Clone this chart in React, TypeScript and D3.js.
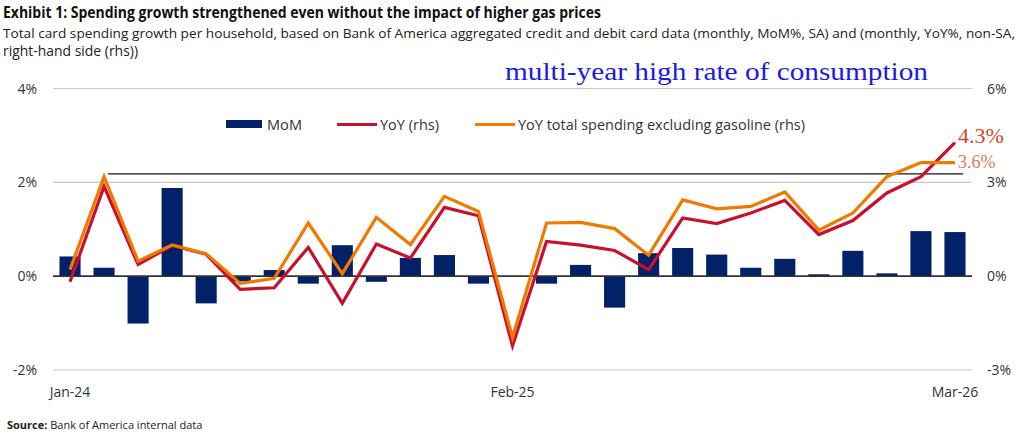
import React from 'react';
import { scaleBand, scaleLinear, line } from 'd3';

const months = [
  'Jan-24', 'Feb-24', 'Mar-24', 'Apr-24', 'May-24', 'Jun-24', 'Jul-24', 'Aug-24', 'Sep-24',
  'Oct-24', 'Nov-24', 'Dec-24', 'Jan-25', 'Feb-25', 'Mar-25', 'Apr-25', 'May-25', 'Jun-25',
  'Jul-25', 'Aug-25', 'Sep-25', 'Oct-25', 'Nov-25', 'Dec-25', 'Jan-26', 'Feb-26', 'Mar-26',
];

// MoM %, SA (left axis)
const mom = [
  0.42, 0.18, -1.01, 1.88, -0.58, -0.11, 0.13, -0.16, 0.66,
  -0.12, 0.39, 0.45, -0.16, 0.0, -0.16, 0.24, -0.67, 0.49,
  0.6, 0.46, 0.18, 0.37, 0.04, 0.54, 0.06, 0.96, 0.94,
];

// YoY %, non-SA (right axis)
const yoy = [
  -0.18, 2.87, 0.37, 0.98, 0.7, -0.42, -0.37, 0.92, -0.87,
  1.03, 0.58, 2.2, 1.93, -2.23, 1.11, 0.99, 0.82, 0.21,
  1.86, 1.68, 2.02, 2.42, 1.33, 1.78, 2.66, 3.18, 4.27,
];

// YoY total spending excluding gasoline (right axis)
const yoyExGas = [
  0.21, 3.18, 0.48, 1.0, 0.72, -0.23, -0.07, 1.7, 0.08,
  1.88, 1.01, 2.55, 2.07, -1.96, 1.7, 1.72, 1.52, 0.67,
  2.44, 2.15, 2.23, 2.69, 1.47, 2.02, 3.18, 3.63, 3.63,
];

const leftTicks = [-2, 0, 2, 4];
const rightTicks = [-3, 0, 3, 6];
const xLabels = ['Jan-24', 'Feb-25', 'Mar-26'];
const highLine = 3.27; // rhs level of the Feb-24 peak

const NAVY = '#012169';
const RED = '#c8102e';
const ORANGE = '#f07a00';
const FONT = "'Open Sans', sans-serif";

const plot = { left: 53, right: 972, top: 88.5, bottom: 370 };

const App: React.FC = () => {
  const x = scaleBand().domain(months).range([plot.left, plot.right]).paddingInner(0.38).paddingOuter(0.19);
  const cx = (m: string) => x(m)! + x.bandwidth() / 2;
  const yL = scaleLinear().domain([-2, 4]).range([plot.bottom, plot.top]);
  const yR = scaleLinear().domain([-3, 6]).range([plot.bottom, plot.top]);

  const pathOf = (vals: number[]) =>
    line<number>()
      .x((_, i) => cx(months[i]))
      .y(v => yR(v))(vals)!;

  const last = months[months.length - 1];

  return (
    <div>
      <svg width={1024} height={438} style={{ position: 'absolute', left: 0, top: 0, background: '#fff' }} fontFamily={FONT}>
        <text x={3} y={18} fontSize={16} fontWeight={700} fill="#111" textLength={598} lengthAdjust="spacingAndGlyphs">
          Exhibit 1: Spending growth strengthened even without the impact of higher gas prices
        </text>
        <text x={3} y={38} fontSize={13.2} fill="#222" textLength={1012} lengthAdjust="spacingAndGlyphs">
          Total card spending growth per household, based on Bank of America aggregated credit and debit card data (monthly, MoM%, SA) and (monthly, YoY%, non-SA,
        </text>
        <text x={3} y={56} fontSize={14} fill="#222" textLength={135} lengthAdjust="spacingAndGlyphs">
          right-hand side (rhs))
        </text>

        <text x={505} y={80} fontSize={26} fill="#1a1ae6" fontFamily="'Liberation Serif', 'DejaVu Serif', serif" textLength={423} lengthAdjust="spacingAndGlyphs">
          multi-year high rate of consumption
        </text>

        {leftTicks.map(t => (
          <g key={t}>
            <line x1={plot.left} x2={plot.right} y1={yL(t)} y2={yL(t)} stroke={t === 0 ? '#333' : '#c8c8c8'} strokeWidth={t === 0 ? 1.5 : 1.2} />
            <text x={37} y={yL(t) + 5} fontSize={14} fill="#333" textAnchor="end">{t}%</text>
          </g>
        ))}
        {rightTicks.map(t => (
          <text key={t} x={987} y={yR(t) + 5} fontSize={14} fill="#333">{t}%</text>
        ))}

        {mom.map((v, i) => (
          <rect key={months[i]} x={x(months[i])} width={x.bandwidth()}
            y={Math.min(yL(v), yL(0))} height={Math.abs(yL(v) - yL(0))} fill={NAVY} />
        ))}
        <line x1={plot.left} x2={plot.right} y1={yL(0)} y2={yL(0)} stroke="#333" strokeWidth={1.5} />

        <line x1={cx(months[1]) + 4} x2={cx(last) + 8} y1={yR(highLine)} y2={yR(highLine)} stroke="#111" strokeWidth={1.2} />

        <path d={pathOf(yoy)} fill="none" stroke={RED} strokeWidth={3.2} strokeLinejoin="miter" />
        <path d={pathOf(yoyExGas)} fill="none" stroke={ORANGE} strokeWidth={3.2} strokeLinejoin="miter" />

        <text x={958} y={143} fontSize={22} fill="#cc4a2a" fontFamily="'Liberation Serif', serif">4.3%</text>
        <text x={958} y={168} fontSize={18} fill="#d9804a" fontFamily="'Liberation Serif', serif">3.6%</text>

        {/* legend */}
        <rect x={226} y={120} width={36} height={8} fill={NAVY} />
        <text x={267} y={130} fontSize={14} fill="#333" textLength={35} lengthAdjust="spacingAndGlyphs">MoM</text>
        <line x1={337} x2={377} y1={124.5} y2={124.5} stroke={RED} strokeWidth={3} />
        <text x={380} y={130} fontSize={14} fill="#333" textLength={59} lengthAdjust="spacingAndGlyphs">YoY (rhs)</text>
        <line x1={475} x2={515} y1={124.5} y2={124.5} stroke={ORANGE} strokeWidth={3} />
        <text x={518} y={130} fontSize={14} fill="#333" textLength={287} lengthAdjust="spacingAndGlyphs">YoY total spending excluding gasoline (rhs)</text>

        {xLabels.map(m => (
          <text key={m} x={cx(m)} y={397} fontSize={14} fill="#333" textAnchor="middle">{m}</text>
        ))}

        <text x={7} y={429} fontSize={11} fill="#222">
          <tspan fontWeight={700}>Source:</tspan> Bank of America internal data
        </text>
      </svg>
    </div>
  );
};

export default App;
